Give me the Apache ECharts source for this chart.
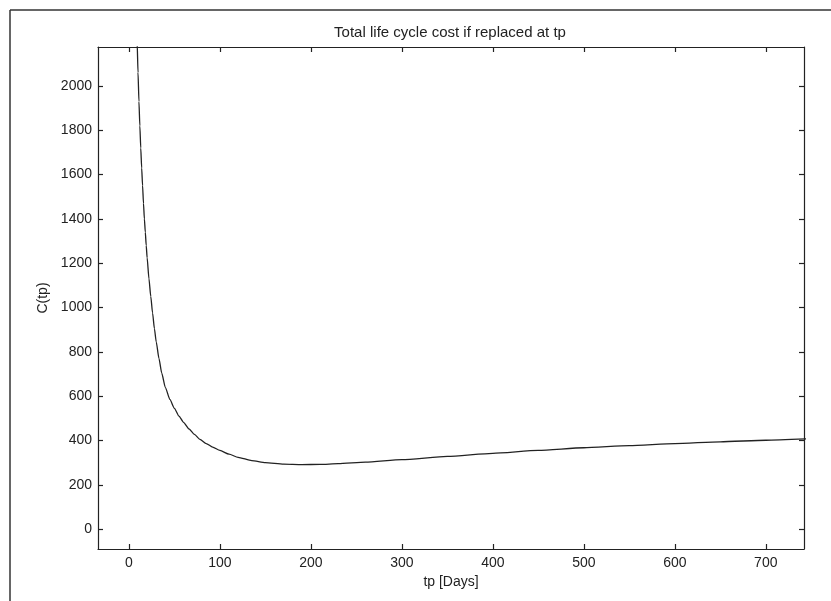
<!DOCTYPE html>
<html>
<head>
<meta charset="utf-8">
<script src="https://cdn.jsdelivr.net/npm/echarts@6/dist/echarts.min.js"></script>
<style>
html,body{margin:0;padding:0;background:#fff;}
#c{width:831px;height:601px;}
</style>
</head>
<body>
<div id="c"></div>
<script>
var titleText = 'Total life cycle cost if replaced at tp';
var xLabel = 'tp [Days]';
var yLabel = 'C(tp)';
var xTicks = [0, 100, 200, 300, 400, 500, 600, 700];
var yTicks = [0, 200, 400, 600, 800, 1000, 1200, 1400, 1600, 1800, 2000];
var tp = [8, 9, 10, 11, 12, 13, 14, 15, 16, 17, 18, 19, 20, 22, 24, 26, 28, 30, 33, 36, 40, 45, 50, 55, 60, 66, 72, 78, 85, 92, 100, 110, 120, 135, 150, 170, 190, 210, 230, 260, 300, 350, 400, 450, 500, 550, 600, 650, 700, 745];
var cost = [2420, 2200, 2060, 1930, 1820, 1720, 1630, 1550, 1470, 1400, 1340, 1280, 1225, 1130, 1050, 975, 905, 845, 770, 705, 640, 585, 545, 510, 482, 452, 427, 405, 386, 370, 355, 338, 324, 309, 300, 293, 291, 292, 295, 302, 313, 328, 342, 355, 367, 377, 386, 394, 401, 407];

var pts = tp.map(function (t, i) { return [t, cost[i]]; });
var XMIN = -34, XMAX = 742, YMIN = -90, YMAX = 2176;
var font = '"Liberation Sans", Arial, sans-serif';
var lineCol = '#222';
function tick(vals) {
  return { show: true, inside: true, length: 5, customValues: vals, lineStyle: { color: lineCol, width: 1.2 } };
}
function base(extra) {
  return Object.assign({
    type: 'value',
    axisLine: { show: true, onZero: false, lineStyle: { color: lineCol, width: 1.2 } },
    splitLine: { show: false }
  }, extra);
}

var chart = echarts.init(document.getElementById('c'), null, { renderer: 'canvas' });
chart.setOption({
  backgroundColor: '#fff',
  animation: false,
  title: {
    text: titleText, left: 445, top: 20, textAlign: 'center',
    textStyle: { fontFamily: font, fontSize: 15, fontWeight: 'normal', color: '#222' }
  },
  grid: { left: 98, right: 27, top: 47, bottom: 52 },
  xAxis: [
    base({ position: 'bottom', min: XMIN, max: XMAX, axisTick: tick(xTicks),
      axisLabel: { customValues: xTicks, fontFamily: font, fontSize: 14, color: '#222', margin: 7 },
      name: xLabel, nameLocation: 'middle', nameGap: 24,
      nameTextStyle: { fontFamily: font, fontSize: 14, color: '#222' } }),
    base({ position: 'top', min: XMIN, max: XMAX, axisTick: tick(xTicks), axisLabel: { show: false } })
  ],
  yAxis: [
    base({ position: 'left', min: YMIN, max: YMAX, axisTick: tick(yTicks),
      axisLabel: { customValues: yTicks, fontFamily: font, fontSize: 14, color: '#222', margin: 6,
        formatter: function (v) { return String(v); } },
      name: yLabel, nameLocation: 'middle', nameGap: 44,
      nameTextStyle: { fontFamily: font, fontSize: 14, color: '#222' } }),
    base({ position: 'right', min: YMIN, max: YMAX, axisTick: tick(yTicks), axisLabel: { show: false } })
  ],
  graphic: [
    { type: 'line', shape: { x1: 10, y1: 10, x2: 831, y2: 10 }, style: { stroke: '#333', lineWidth: 1.5 } },
    { type: 'line', shape: { x1: 10, y1: 10, x2: 10, y2: 601 }, style: { stroke: '#333', lineWidth: 1.5 } }
  ],
  series: [{
    type: 'line', data: pts, xAxisIndex: 0, yAxisIndex: 0,
    showSymbol: false, smooth: 0.2, smoothMonotone: 'x', clip: true,
    lineStyle: { color: '#222', width: 1.3 }
  }]
});
</script>
</body>
</html>
